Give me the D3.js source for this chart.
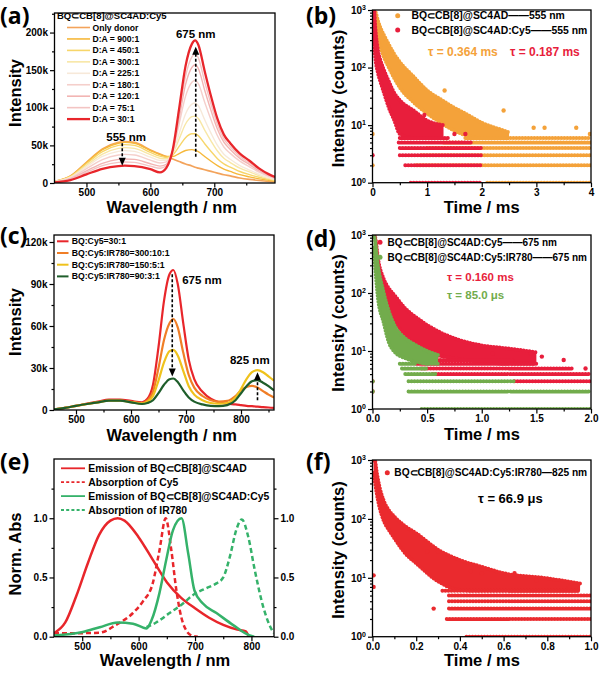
<!DOCTYPE html>
<html>
<head>
<meta charset="utf-8">
<style>body{margin:0;background:#fff} svg{display:block}</style>
</head>
<body>
<script src="https://d3js.org/d3.v7.min.js"></script>
<script>
// ---------- (a) emission titration, values in k counts ----------
var aWl = [450,475,500,525,550,560,575,600,615,625,635,645,655,665,670,675,685,695,705,715,725,740,755,770,785,795];
var aOnlyDonor = [2.2,9.4,27.5,45.1,53.9,55,53.9,44,38.5,35.2,31.9,28.6,25.3,22.6,20.9,19.8,17.6,15.4,13.2,11,9.4,6.6,4.7,3.3,2.2,1.7];
var aDA900 = [2.2,9.2,27,44.3,52.9,54,52.9,43.2,37.8,35.3,35.2,39.1,43.2,44.4,43.5,41.7,35.2,28.9,23.1,18.4,15.4,11.1,8.1,5.5,3.6,2.5];
var aDA450 = [2,8.7,25.5,41.8,50,51,50,40.8,35.7,34,37.4,48.6,60.3,65.5,65.4,63,52.2,41.9,32.4,25.4,21.1,15.3,11.2,7.7,4.8,3.3];
var aDA300 = [1.9,8,23.5,38.5,46.1,47,46.1,37.6,32.9,32.2,39.4,58.5,78.4,88.2,88.9,85.8,70.4,55.8,42.5,32.8,27.2,19.8,14.7,9.9,6.2,4.2];
var aDA225 = [1.7,7.3,21.5,35.3,42.1,43,42.1,34.4,30.1,30.2,40.2,65.6,91.8,104.9,106.3,102.8,84,66,49.9,38.3,31.6,23.2,17.2,11.6,7.1,4.9];
var aDA180 = [1.5,6.5,19,31.2,37.2,38,37.2,30.4,26.6,28,42.7,78.4,115.1,133.9,136.4,132,107.4,83.8,62.8,47.9,39.4,29,21.5,14.5,8.8,6];
var aDA120 = [1.3,5.4,16,26.2,31.4,32,31.4,25.6,22.4,24.9,43.3,86.2,130.7,153.8,157.2,152.2,123.3,96,71.5,54.3,44.6,32.8,24.5,16.4,10,6.8];
var aDA75 = [1.1,4.8,14,23,27.4,28,27.4,22.4,19.6,22.7,43.6,91.9,141.7,167.7,171.6,166.3,134.6,104.4,77.5,58.7,48.3,35.6,26.6,17.8,10.8,7.2];
var aDA30 = [0.9,3.9,11.5,18.9,22.5,23,22.5,18.4,14,20.1,44.1,98.9,155.4,185,189.7,183.9,148.6,115,85.1,64.3,52.8,39,29.6,19.5,11.8,7.9];
var aLabels = ['Only donor','D:A = 900:1','D:A = 450:1','D:A = 300:1','D:A = 225:1','D:A = 180:1','D:A = 120:1','D:A = 75:1','D:A = 30:1'];
var aColors = ['#F3A35B','#F6B83A','#F7D66A','#F8E7A6','#F7E9D9','#F5CFCB','#F2B5B3','#F3C4C3','#E8262B'];
var aYTicks = [0,50,100,150,200];
var aXTicks = [500,600,700];
var aArrows = [[556,53,23],[671,35,181]];
var aNotes = [['555 nm',562,55.8],['675 nm',671,192.7]];

// ---------- (b) decay at 555 nm ----------
var bOrangeT = [0.03,0.06,0.1,0.15,0.2,0.3,0.4,0.5,0.75,1.0,1.25,1.5,1.75,2.0,2.25,2.5];
var bOrangeHi = [1000,900,650,480,380,250,170,125,70,40,28,20,15,11,9,7.5];
var bOrangeLo = [800,500,320,220,160,100,65,45,25,16,11,8,6.5,6,6,6];
var bOrangeBands = [[1,2.1,4.0],[2,0.8,4.0],[3,0.9,4.0],[4,1.0,4.0],[5,1.3,4.0],[6,1.7,4.0]];
var bOrangeExtra = [[1.32,40],[2.4,18],[2.95,9],[3.15,9],[3.73,9],[3.98,7],[0,7],[0,2]];
var bRedT = [0.01,0.03,0.05,0.1,0.15,0.2,0.3,0.4,0.5,0.75,1.0,1.3];
var bRedHi = [1000,1000,520,200,130,95,57,36,27,18,12,10];
var bRedLo = [400,250,150,80,55,39,20,12,7,6,6,6];
var bRedBands = [[1,0.7,2.0],[2,0.6,2.0],[3,0.5,2.0],[4,0.5,2.0],[5,0.48,1.8],[6,0.5,1.4]];
var bRedExtra = [[0,3],[0.95,15],[1.5,7],[1.7,7]];
var bXTicks = [0,1,2,3,4];

// ---------- (c) emission with IR780, values in k counts ----------
var cWl = [460,480,500,520,540,560,580,600,620,630,640,650,660,670,677,685,695,705,715,730,745,760,775,790,800,810,820,830,840,850,860];
var cRed = [0.5,1.5,3,4.5,6,7.5,7.5,6.5,5.5,8,18,45,78,97,100,90,62,36,22,13,8,5.5,4.5,4,3.5,3,2.7,2.4,2,1.8,1.5];
var cOrange = [0.5,1.5,3,4.3,5.6,6.8,6.8,5.8,5,7,13,30,50,62,65,59,41,25,16,10,7,6,6.5,10,14,16.5,17.3,16,13.5,11,9];
var cYellow = [0.5,1.5,3,4.3,5.5,6.7,6.7,5.6,4.6,6,10,21,34,42,43,39,28,17,11,7,5,4.5,5,9,15,22,27,28.5,27,24,21];
var cGreen = [0.5,1.5,3,4.3,5.5,6.7,6.7,5.5,4.3,5,7,12,18,22,22.5,20,14,9,6,4,3,2.8,3.5,7,12,17,20.5,21.4,19.5,17,14];
var cLabels = ['BQ:Cy5=30:1','BQ:Cy5:IR780=300:10:1','BQ:Cy5:IR780=150:5:1','BQ:Cy5:IR780=90:3:1'];
var cColors = ['#E8262B','#F07E26','#EFC21C','#1F5E2B'];
var cYTicks = [0,30,60,90,120];
var cXTicks = [500,600,700,800];
var cArrows = [[675,97,24],[830,7,27]];
var cNotes = [['675 nm',729,90],['825 nm',816,33]];

// ---------- (d) decay at 675 nm ----------
var dRedT = [0.02,0.03,0.05,0.1,0.15,0.2,0.3,0.4,0.5,0.75,1.0,1.25,1.5];
var dRedHi = [1000,800,400,180,120,92,54,38,28,16.5,12.5,11,9.5];
var dRedLo = [600,350,160,70,45,32,19,13,9.5,7.5,6.5,6,6];
var dRedBands = [[3,1.3,2.0],[4,0.55,2.0],[5,0.45,1.85],[6,0.4,1.5],[7,0.4,1.3]];
var dRedExtra = [[1.1,9],[1.45,9],[1.55,8],[1.75,7],[1.95,5],[0,3],[0,2]];
var dGreenT = [0.01,0.02,0.05,0.1,0.15,0.2,0.3,0.4,0.5,0.6];
var dGreenHi = [1000,900,300,106,48,28,16.5,12.5,10,8.5];
var dGreenLo = [600,350,81,32,14,9.8,7.5,6.6,6,6];
var dGreenBands = [[1,0.45,2.0],[2,0.33,2.0],[3,0.33,1.3],[4,0.3,0.6],[5,0.27,0.5],[6,0.25,0.4]];
var dGreenExtra = [[0,3],[0,2]];
var dXTicks = [0,0.5,1.0,1.5,2.0];

// ---------- (e) normalised spectra ----------
var eEmBqWl = [450,470,490,510,530,550,563,575,600,625,650,675,700,725,750,775,790,795];
var eEmBq = [0.03,0.12,0.35,0.62,0.86,0.98,1.0,0.98,0.84,0.65,0.46,0.33,0.24,0.16,0.1,0.06,0.045,0.0];
var eAbsCy5Wl = [450,500,531,560,590,608,625,637,648,658,667,679,694,705];
var eAbsCy5 = [0.03,0.03,0.034,0.1,0.2,0.3,0.45,0.73,1.0,0.73,0.39,0.11,0.01,0];
var eEmCy5Wl = [450,501,531,563,590,614,623,637,649,661,676,688,699,714,738,767,797,805];
var eEmCy5 = [0.01,0.04,0.08,0.12,0.11,0.07,0.14,0.37,0.65,0.9,1.0,0.7,0.39,0.28,0.2,0.1,0.01,0];
var eAbsIrWl = [614,631,655,676,699,720,738,750,762,773,783,794,806,821,836,840];
var eAbsIr = [0.08,0.12,0.2,0.27,0.36,0.41,0.45,0.5,0.68,0.9,0.99,0.85,0.56,0.25,0.06,0.03];
var eLabels = ['Emission of BQ\u2282CB[8]@SC4AD','Absorption of Cy5','Emission of BQ\u2282CB[8]@SC4AD:Cy5','Absorption of IR780'];
var eYTicks = [0,0.5,1.0];
var eXTicks = [500,600,700,800];

// ---------- (f) decay at 825 nm ----------
var fT = [0.005,0.01,0.02,0.03,0.05,0.075,0.1,0.15,0.2,0.3,0.4,0.5,0.6,0.8,0.95];
var fHi = [1000,1000,600,380,210,140,109,75,57,30,20,15.4,12,9.8,8];
var fLo = [600,450,260,170,96,65,47,26,17.6,8.7,6.2,6,6,6,6];
var fBands = [[1,0.43,1.0],[2,0.34,1.0],[3,0.35,1.0],[4,0.35,1.0],[5,0.35,1.0],[6,0.32,0.95]];
var fExtra = [[0.005,11],[0.005,7],[0.28,3],[0.45,13],[0.5,12],[0.65,12],[0.7,10],[0.75,9],[0.9,7],[0.25,28],[0.3,28]];
var fXTicks = [0,0.2,0.4,0.6,0.8,1.0];

var logMajor = [1,10,100,1000];

// ---------- drawing ----------
var FONT = '"Liberation Sans", Arial, Helvetica, sans-serif';
var svg = d3.select('body').append('svg')
  .attr('width', 600).attr('height', 675)
  .style('font-family', FONT);

var boxes = {
  a: {l: 54.5, r: 275, t: 13, b: 183},
  b: {l: 372.5, r: 591, t: 10, b: 182.7},
  c: {l: 54, r: 274, t: 235, b: 410},
  d: {l: 372.5, r: 591, t: 235, b: 409},
  e: {l: 54, r: 274, t: 459, b: 636.7},
  f: {l: 372.5, r: 591, t: 460, b: 636.7}
};

function styleAxis(sel) {
  sel.attr('font-family', FONT).attr('font-size', 10).attr('font-weight', 'bold');
  sel.select('.domain').remove();
  sel.selectAll('.tick line').attr('stroke-width', 1.2);
}

function minorBetween(ticks, step, dom) {
  var out = [];
  for (var v = dom[0]; v <= dom[1] + 1e-9; v += step) {
    var r = Math.round(v * 1000) / 1000;
    if (ticks.indexOf(r) < 0) out.push(r);
  }
  return out;
}

function clipFor(id, box) {
  svg.append('clipPath').attr('id', id).append('rect')
    .attr('x', box.l).attr('y', box.t).attr('width', box.r - box.l).attr('height', box.b - box.t);
  return svg.append('g').attr('clip-path', 'url(#' + id + ')');
}

function xAxis(box, x, ticks, minor, fmt) {
  svg.append('g').attr('transform', 'translate(0,' + box.b + ')')
    .call(d3.axisBottom(x).tickValues(minor).tickSize(2.5).tickFormat(''))
    .call(styleAxis);
  svg.append('g').attr('transform', 'translate(0,' + box.b + ')')
    .call(d3.axisBottom(x).tickValues(ticks).tickSize(4.5).tickPadding(1.5).tickFormat(fmt))
    .call(styleAxis);
}

function yAxis(box, y, ticks, minor, fmt, right) {
  var ax = right ? d3.axisRight : d3.axisLeft;
  var px = right ? box.r : box.l;
  svg.append('g').attr('transform', 'translate(' + px + ',0)')
    .call(ax(y).tickValues(minor).tickSize(2.5).tickFormat(''))
    .call(styleAxis);
  return svg.append('g').attr('transform', 'translate(' + px + ',0)')
    .call(ax(y).tickValues(ticks).tickSize(4.5).tickPadding(2).tickFormat(fmt))
    .call(styleAxis);
}

function logAxis(box, y) {
  var minor = [];
  [1, 10, 100].forEach(function (dec) {
    for (var k = 2; k <= 9; k++) minor.push(k * dec);
  });
  var g = yAxis(box, y, logMajor, minor, function () { return ''; });
  g.selectAll('.tick text').each(function (d) {
    var t = d3.select(this).text('10');
    t.append('tspan').attr('dy', '-0.5em').attr('font-size', 7)
      .text(Math.round(Math.log10(d)));
  });
}

function frame(box) {
  svg.append('rect')
    .attr('x', box.l).attr('y', box.t)
    .attr('width', box.r - box.l).attr('height', box.b - box.t)
    .attr('fill', 'none').attr('stroke', '#000').attr('stroke-width', 1.3);
}

function titles(box, letter, lx, ly, xt, xtx, xty, yt, ytx, yty) {
  svg.append('text').attr('x', lx).attr('y', ly).text(letter)
    .attr('font-family', '"Open Sans", ' + FONT).attr('font-weight', 'bold').attr('font-size', 23);
  svg.append('text').attr('x', xtx).attr('y', xty).text(xt)
    .attr('text-anchor', 'middle').attr('font-weight', 'bold').attr('font-size', 16.5);
  svg.append('text').attr('transform', 'translate(' + ytx + ',' + yty + ') rotate(-90)').text(yt)
    .attr('text-anchor', 'middle').attr('font-weight', 'bold').attr('font-size', 16.5);
}

function arrow(x, y, a) {
  var x0 = x(a[0]), y0 = y(a[1]), y1 = y(a[2]);
  var dir = y1 < y0 ? -1 : 1;
  svg.append('line').attr('x1', x0).attr('x2', x0).attr('y1', y0).attr('y2', y1 - dir * 6)
    .attr('stroke', '#000').attr('stroke-width', 1.6).attr('stroke-dasharray', '3 2');
  svg.append('path')
    .attr('d', 'M' + (x0 - 3.5) + ',' + (y1 - dir * 8) + 'L' + (x0 + 3.5) + ',' + (y1 - dir * 8) + 'L' + x0 + ',' + y1 + 'Z')
    .attr('fill', '#000');
}

function note(x, y, n) {
  svg.append('text').attr('x', x(n[1])).attr('y', y(n[2])).text(n[0])
    .attr('text-anchor', 'middle').attr('font-weight', 'bold').attr('font-size', 11.5);
}

function decay(g, x, y, s) {
  var rows = s.t.map(function (t, i) { return [t, s.hi[i], s.lo[i]]; });
  var area = d3.area().curve(d3.curveMonotoneX)
    .x(function (d) { return x(d[0]); })
    .y0(function (d) { return y(d[2]); })
    .y1(function (d) { return y(d[1]); });
  g.append('path').datum(rows).attr('d', area).attr('fill', s.color);
  [1, 2].forEach(function (k) {
    var edge = d3.line().curve(d3.curveMonotoneX)
      .x(function (d) { return x(d[0]); })
      .y(function (d) { return y(d[k]); });
    g.append('path').datum(rows).attr('d', edge).attr('fill', 'none')
      .attr('stroke', s.color).attr('stroke-width', 4)
      .attr('stroke-linecap', 'round').attr('stroke-dasharray', '0 3');
  });
  g.selectAll(null).data(s.bands).enter().append('line')
    .attr('x1', function (d) { return x(d[1]); })
    .attr('x2', function (d) { return x(d[2]); })
    .attr('y1', function (d) { return y(d[0]); })
    .attr('y2', function (d) { return y(d[0]); })
    .attr('stroke', s.color).attr('stroke-width', 4)
    .attr('stroke-linecap', 'round').attr('stroke-dasharray', '0 3');
  g.selectAll(null).data(s.extra).enter().append('circle')
    .attr('cx', function (d) { return x(d[0]); })
    .attr('cy', function (d) { return y(d[1]); })
    .attr('r', 2.2).attr('fill', s.color);
}

function dotLegend(x0, tx, rows, size) {
  rows.forEach(function (r) {
    svg.append('circle').attr('cx', x0).attr('cy', r.y).attr('r', 2.5).attr('fill', r.color);
    svg.append('text').attr('x', tx).attr('y', r.y).attr('dy', '0.35em').text(r.label)
      .attr('font-weight', 'bold').attr('font-size', size);
  });
}

var kFmt = function (d) { return d === 0 ? '0' : d + 'k'; };
var nmFmt = function (d) { return d; };

// ===== (a) =====
(function () {
  var box = boxes.a;
  var x = d3.scaleLinear().domain([450, 795]).range([box.l, box.r]);
  var y = d3.scaleLinear().domain([0, 226]).range([box.b, box.t]);
  var g = clipFor('clipA', box);
  var series = [aOnlyDonor, aDA900, aDA450, aDA300, aDA225, aDA180, aDA120, aDA75, aDA30];
  var line = d3.line().curve(d3.curveMonotoneX)
    .x(function (d, i) { return x(aWl[i]); })
    .y(function (d) { return y(d); });
  series.forEach(function (s, i) {
    g.append('path').datum(s).attr('d', line).attr('fill', 'none')
      .attr('stroke', aColors[i]).attr('stroke-width', i === 8 ? 2.3 : (i === 0 ? 1.7 : 1.4));
  });
  xAxis(box, x, aXTicks, minorBetween(aXTicks, 50, [550, 750]), nmFmt);
  yAxis(box, y, aYTicks, minorBetween(aYTicks, 25, [25, 225]), kFmt);
  frame(box);
  aArrows.forEach(function (a) { arrow(x, y, a); });
  aNotes.forEach(function (n) { note(x, y, n); });
  svg.append('text').attr('x', 57).attr('y', 18.5).text('BQ\u2282CB[8]@SC4AD:Cy5')
    .attr('font-weight', 'bold').attr('font-size', 9.5);
  aLabels.forEach(function (l, i) {
    var yy = 27.5 + i * 11.45;
    svg.append('line').attr('x1', 67).attr('x2', 90).attr('y1', yy).attr('y2', yy)
      .attr('stroke', aColors[i]).attr('stroke-width', i === 8 ? 2.3 : 1.6);
    svg.append('text').attr('x', 92.5).attr('y', yy).attr('dy', '0.35em').text(l)
      .attr('font-weight', 'bold').attr('font-size', 8.6);
  });
  titles(box, '(a)', 0, 24, 'Wavelength / nm', 171.7, 213, 'Intensity', 21, 93);
})();

// ===== (b) =====
(function () {
  var box = boxes.b;
  var x = d3.scaleLinear().domain([0, 4]).range([box.l, box.r]);
  var y = d3.scaleLog().domain([1, 1000]).range([box.b, box.t]);
  var g = clipFor('clipB', box);
  decay(g, x, y, {t: bOrangeT, hi: bOrangeHi, lo: bOrangeLo, bands: bOrangeBands, extra: bOrangeExtra, color: '#F4A23A'});
  decay(g, x, y, {t: bRedT, hi: bRedHi, lo: bRedLo, bands: bRedBands, extra: bRedExtra, color: '#E81E3C'});
  xAxis(box, x, bXTicks, [0.5, 1.5, 2.5, 3.5], d3.format('d'));
  logAxis(box, y);
  frame(box);
  dotLegend(397.7, 411.5, [
    {y: 15.7, color: '#F4A23A', label: 'BQ\u2282CB[8]@SC4AD\u2014\u2014555 nm'},
    {y: 30, color: '#E81E3C', label: 'BQ\u2282CB[8]@SC4AD:Cy5\u2014\u2014555 nm'}
  ], 10.4);
  svg.append('text').attr('x', 428).attr('y', 56).text('\u03c4 = 0.364 ms')
    .attr('fill', '#F4A23A').attr('font-weight', 'bold').attr('font-size', 12);
  svg.append('text').attr('x', 510).attr('y', 56).text('\u03c4 = 0.187 ms')
    .attr('fill', '#E81E3C').attr('font-weight', 'bold').attr('font-size', 12);
  titles(box, '(b)', 306, 24, 'Time / ms', 481.7, 213, 'Intensity (counts)', 344, 98.5);
})();

// ===== (c) =====
(function () {
  var box = boxes.c;
  var x = d3.scaleLinear().domain([460, 860]).range([box.l, box.r]);
  var y = d3.scaleLinear().domain([0, 125]).range([box.b, box.t]);
  var g = clipFor('clipC', box);
  var line = d3.line().curve(d3.curveMonotoneX)
    .x(function (d, i) { return x(cWl[i]); })
    .y(function (d) { return y(d); });
  [cRed, cOrange, cYellow, cGreen].forEach(function (s, i) {
    g.append('path').datum(s).attr('d', line).attr('fill', 'none')
      .attr('stroke', cColors[i]).attr('stroke-width', 2.2);
  });
  xAxis(box, x, cXTicks, minorBetween(cXTicks, 50, [550, 850]), nmFmt);
  yAxis(box, y, cYTicks, minorBetween(cYTicks, 15, [15, 105]), kFmt);
  frame(box);
  cArrows.forEach(function (a) { arrow(x, y, a); });
  cNotes.forEach(function (n) { note(x, y, n); });
  cLabels.forEach(function (l, i) {
    var yy = 241.3 + i * 11.7;
    svg.append('line').attr('x1', 57).attr('x2', 68.5).attr('y1', yy).attr('y2', yy)
      .attr('stroke', cColors[i]).attr('stroke-width', 2);
    svg.append('text').attr('x', 71.7).attr('y', yy).attr('dy', '0.35em').text(l)
      .attr('font-weight', 'bold').attr('font-size', 8.7);
  });
  titles(box, '(c)', 0, 244, 'Wavelength / nm', 171.7, 441, 'Intensity', 21, 322);
})();

// ===== (d) =====
(function () {
  var box = boxes.d;
  var x = d3.scaleLinear().domain([0, 2]).range([box.l, box.r]);
  var y = d3.scaleLog().domain([1, 1000]).range([box.b, box.t]);
  var g = clipFor('clipD', box);
  decay(g, x, y, {t: dRedT, hi: dRedHi, lo: dRedLo, bands: dRedBands, extra: dRedExtra, color: '#E81E3C'});
  decay(g, x, y, {t: dGreenT, hi: dGreenHi, lo: dGreenLo, bands: dGreenBands, extra: dGreenExtra, color: '#72AC4C'});
  xAxis(box, x, dXTicks, [0.25, 0.75, 1.25, 1.75], d3.format('.1f'));
  logAxis(box, y);
  frame(box);
  dotLegend(380, 387.5, [
    {y: 242.3, color: '#E81E3C', label: 'BQ\u2282CB[8]@SC4AD:Cy5\u2014\u2014675 nm'},
    {y: 257.3, color: '#72AC4C', label: 'BQ\u2282CB[8]@SC4AD:Cy5:IR780\u2014\u2014675 nm'}
  ], 10);
  svg.append('text').attr('x', 447).attr('y', 280.5).text('\u03c4 = 0.160 ms')
    .attr('fill', '#E81E3C').attr('font-weight', 'bold').attr('font-size', 11.5);
  svg.append('text').attr('x', 447).attr('y', 299).text('\u03c4 = 85.0 \u03bcs')
    .attr('fill', '#72AC4C').attr('font-weight', 'bold').attr('font-size', 11.5);
  titles(box, '(d)', 306, 247, 'Time / ms', 482, 440, 'Intensity (counts)', 344, 323);
})();

// ===== (e) =====
(function () {
  var box = boxes.e;
  var x = d3.scaleLinear().domain([450, 840]).range([box.l, box.r]);
  var y = d3.scaleLinear().domain([0, 1.5]).range([box.b, box.t]);
  var g = clipFor('clipE', box);
  var specs = [
    {wl: eEmBqWl, v: eEmBq, color: '#E8262B', dash: null},
    {wl: eAbsCy5Wl, v: eAbsCy5, color: '#E8262B', dash: '5 3'},
    {wl: eEmCy5Wl, v: eEmCy5, color: '#35B26A', dash: null},
    {wl: eAbsIrWl, v: eAbsIr, color: '#35B26A', dash: '5 3'}
  ];
  specs.forEach(function (s) {
    var line = d3.line().curve(d3.curveMonotoneX)
      .x(function (d, i) { return x(s.wl[i]); })
      .y(function (d) { return y(d); });
    g.append('path').datum(s.v).attr('d', line).attr('fill', 'none')
      .attr('stroke', s.color).attr('stroke-width', 2.5)
      .attr('stroke-dasharray', s.dash);
  });
  var f1 = d3.format('.1f');
  xAxis(box, x, eXTicks, minorBetween(eXTicks, 50, [550, 800]), nmFmt);
  yAxis(box, y, eYTicks, [0.25, 0.75, 1.25], f1);
  yAxis(box, y, eYTicks, [0.25, 0.75, 1.25], f1, true);
  frame(box);
  specs.forEach(function (s, i) {
    var yy = 468.3 + i * 13.9;
    svg.append('line').attr('x1', 61).attr('x2', 85).attr('y1', yy).attr('y2', yy)
      .attr('stroke', s.color).attr('stroke-width', 1.8).attr('stroke-dasharray', s.dash ? '3 2.2' : null);
    svg.append('text').attr('x', 88.3).attr('y', yy).attr('dy', '0.35em').text(eLabels[i])
      .attr('font-weight', 'bold').attr('font-size', 10.4);
  });
  titles(box, '(e)', 0, 470, 'Wavelength / nm', 165, 666, 'Norm. Abs', 21, 554);
})();

// ===== (f) =====
(function () {
  var box = boxes.f;
  var x = d3.scaleLinear().domain([0, 1]).range([box.l, box.r]);
  var y = d3.scaleLog().domain([1, 1000]).range([box.b, box.t]);
  var g = clipFor('clipF', box);
  decay(g, x, y, {t: fT, hi: fHi, lo: fLo, bands: fBands, extra: fExtra, color: '#EA2A2E'});
  xAxis(box, x, fXTicks, [0.1, 0.3, 0.5, 0.7, 0.9], d3.format('.1f'));
  logAxis(box, y);
  frame(box);
  dotLegend(387.3, 394.3, [
    {y: 472.7, color: '#EA2A2E', label: 'BQ\u2282CB[8]@SC4AD:Cy5:IR780\u2014825 nm'}
  ], 10.2);
  svg.append('text').attr('x', 478).attr('y', 503).text('\u03c4 = 66.9 \u03bcs')
    .attr('font-weight', 'bold').attr('font-size', 13);
  titles(box, '(f)', 306, 470, 'Time / ms', 482, 666, 'Intensity (counts)', 344, 550);
})();
</script>
</body>
</html>
